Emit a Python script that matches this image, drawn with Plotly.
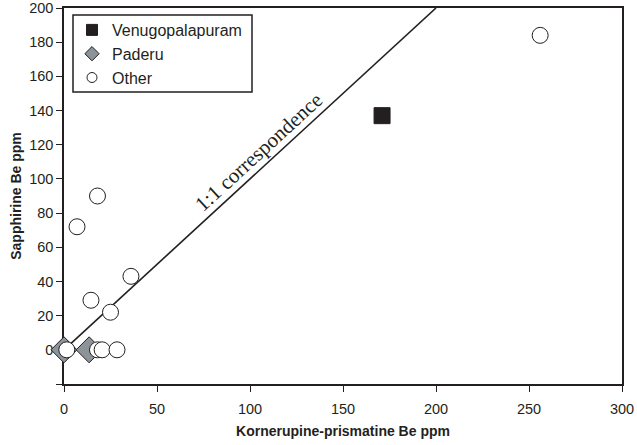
import plotly.graph_objects as go

# Data
venu_x = [171]
venu_y = [137]
paderu_x = [0, 13.5]
paderu_y = [0, 0]
other_x = [256, 18, 7, 36, 14.5, 25, 1.5, 18, 20.5, 28.5]
other_y = [184, 90, 72, 43, 29, 22, 0, 0, 0, 0]
line_x = [0, 200]
line_y = [0, 200]
x_ticks = [0, 50, 100, 150, 200, 250, 300]
y_ticks = [-20, 0, 20, 40, 60, 80, 100, 120, 140, 160, 180, 200]
y_labels = ["", "0", "20", "40", "60", "80", "100", "120", "140", "160", "180", "200"]

INK = "#231f20"
fig = go.Figure()
fig.add_trace(go.Scatter(x=line_x, y=line_y, mode="lines",
                         line=dict(color=INK, width=1.6),
                         showlegend=False, hoverinfo="skip"))
fig.add_trace(go.Scatter(x=paderu_x, y=paderu_y, mode="markers", name="Paderu",
                         marker=dict(symbol="diamond", size=20, color="#8c9399",
                                     line=dict(color=INK, width=1)),
                         cliponaxis=False, showlegend=False))
fig.add_trace(go.Scatter(x=other_x, y=other_y, mode="markers", name="Other",
                         marker=dict(symbol="circle", size=16, color="white",
                                     line=dict(color=INK, width=1)),
                         cliponaxis=False, showlegend=False))
fig.add_trace(go.Scatter(x=venu_x, y=venu_y, mode="markers", name="Venugopalapuram",
                         marker=dict(symbol="square", size=16, color=INK,
                                     line=dict(color=INK, width=1)),
                         cliponaxis=False, showlegend=False))

# legend entries (small symbols as in the reference legend)
fig.add_trace(go.Scatter(x=[None], y=[None], mode="markers", name="Venugopalapuram",
                         marker=dict(symbol="square", size=11, color=INK, line=dict(color=INK, width=1)),
                         legendrank=1))
fig.add_trace(go.Scatter(x=[None], y=[None], mode="markers", name="Paderu",
                         marker=dict(symbol="diamond", size=11, color="#8c9399", line=dict(color=INK, width=1)),
                         legendrank=2))
fig.add_trace(go.Scatter(x=[None], y=[None], mode="markers", name="Other",
                         marker=dict(symbol="circle", size=10, color="white", line=dict(color=INK, width=1)),
                         legendrank=3))

fig.add_annotation(x=104.8, y=115.5, xref="x", yref="y", text="1:1 correspondence",
                   showarrow=False, textangle=-42.5,
                   font=dict(family="Liberation Serif, Times New Roman, serif", size=21, color=INK))

# legend frame
fig.add_shape(type="rect", xref="paper", yref="paper",
              x0=(73 - 64) / 558, x1=(252 - 64) / 558,
              y0=1 - (92 - 8) / 376, y1=1 - (15 - 8) / 376,
              line=dict(color=INK, width=1.5), fillcolor="rgba(0,0,0,0)", layer="above")

fig.update_layout(
    width=637, height=445,
    margin=dict(l=64, r=15, t=8, b=61),
    plot_bgcolor="white", paper_bgcolor="white",
    font=dict(family="Liberation Sans, Arial, sans-serif", size=14, color=INK),
    legend=dict(x=(72 - 64) / 558, y=1 - (13 - 8) / 376, xanchor="left", yanchor="top",
                borderwidth=0, bgcolor="rgba(0,0,0,0)",
                font=dict(size=16), tracegroupgap=0, itemwidth=30),
    xaxis=dict(range=[0, 300], tickvals=x_ticks, showgrid=False, zeroline=False,
               showline=True, linecolor=INK, linewidth=1.5, mirror=True,
               ticks="outside", ticklen=6, tickcolor=INK, automargin=False,
               tickfont=dict(size=14.5), ticklabelstandoff=5, layer="below traces",
               title=dict(text="<b>Kornerupine-prismatine Be ppm</b>", font=dict(size=14), standoff=10)),
    yaxis=dict(range=[-20, 200], tickvals=y_ticks, ticktext=y_labels, showgrid=False, zeroline=False,
               showline=True, linecolor=INK, linewidth=1.5, mirror=True,
               ticks="outside", ticklen=6, tickcolor=INK, automargin=False,
               tickfont=dict(size=14.5), layer="below traces",
               title=dict(text="<b>Sapphirine Be ppm</b>", font=dict(size=14), standoff=4)),
)

fig.write_html("out.html")
